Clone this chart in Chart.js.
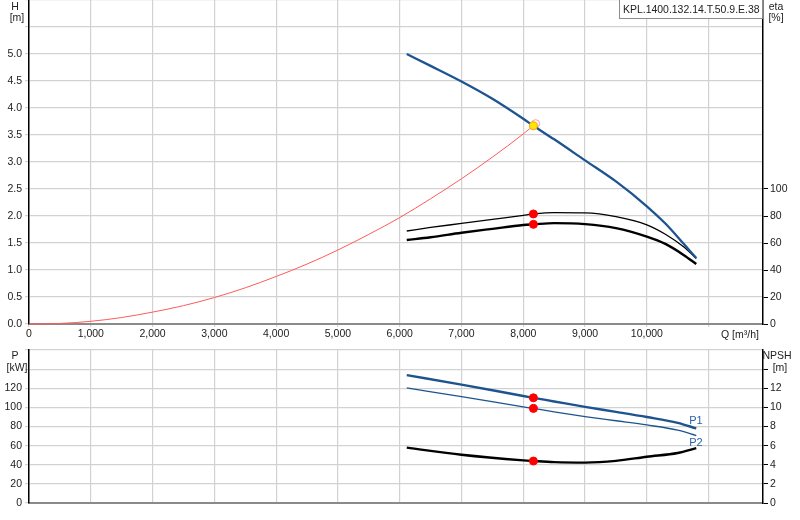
<!DOCTYPE html>
<html>
<head>
<meta charset="utf-8">
<script src="https://cdn.jsdelivr.net/npm/chart.js@4.4.0/dist/chart.umd.min.js"></script>
<style>
  body { margin: 0; background: #fff; width: 800px; height: 520px; position: relative; overflow: hidden;
         font-family: "Liberation Sans", Arial, sans-serif; color: #222; }
  .t { position: absolute; font-size: 10.5px; line-height: 12px; white-space: nowrap; transform: translate(-50%, -50%); }
  .blue { color: #2a62a5; font-size: 11px; }
  #box { position: absolute; left: 619px; top: 0; width: 144px; height: 19px; border: 1px solid #8c8c8c; border-top: 0;
         box-sizing: border-box; font-size: 11px; line-height: 18px; background: #fff; overflow: hidden; }
  #box span { display: inline-block; white-space: nowrap; transform-origin: 0 50%; transform: scaleX(0.95); margin-left: 3px; }
  canvas { position: absolute; left: 0; }
  #top { top: 0; }
  #bot { top: 345px; }
</style>
</head>
<body>
<canvas id="top" width="800" height="345"></canvas>
<canvas id="bot" width="800" height="175"></canvas>

<div class="t" style="left:15px;top:6px">H</div>
<div class="t" style="left:17px;top:17px">[m]</div>
<div class="t" style="left:776px;top:6px">eta</div>
<div class="t" style="left:776px;top:17px">[%]</div>
<div class="t" style="left:740px;top:334px">Q [m³/h]</div>
<div class="t" style="left:15px;top:355px">P</div>
<div class="t" style="left:17px;top:367px">[kW]</div>
<div class="t" style="left:777px;top:355px">NPSH</div>
<div class="t" style="left:780px;top:367px">[m]</div>
<div class="t blue" style="left:696px;top:420px">P1</div>
<div class="t blue" style="left:696px;top:442px">P2</div>
<div id="box"><span>KPL.1400.132.14.T.50.9.E.38</span></div>

<script>
// pump curves, Q in m³/h
const qHead = [6114, 6500, 7000, 7500, 8000, 8164, 8500, 9000, 9500, 10000, 10300, 10600, 10800];
const head = [5.0, 4.78, 4.49, 4.17, 3.80, 3.67, 3.42, 3.03, 2.64, 2.18, 1.86, 1.48, 1.22];
const etaPump = [68.9, 71.5, 74.5, 77.5, 80.5, 81.5, 82.5, 82.3, 79.5, 73.5, 66.5, 57.0, 48.5];
const etaTotal = [62.2, 64.3, 67.6, 70.5, 73.3, 73.8, 74.7, 74.0, 71.0, 64.7, 59.3, 51.0, 44.4];

// system curve
const qSys = [0, 500, 1000, 1500, 2000, 2500, 3000, 3500, 4000, 4500, 5000, 5500, 6000, 6500, 7000, 7500, 8000, 8200];
const sysHead = [0, 0.01, 0.05, 0.12, 0.22, 0.34, 0.49, 0.67, 0.88, 1.11, 1.37, 1.66, 1.97, 2.32, 2.69, 3.09, 3.52, 3.71];

// power and NPSH
const qPower = [6114, 7000, 8000, 8164, 8500, 9000, 9500, 10000, 10500, 10800];
const p1 = [133.7, 123.8, 111.9, 110.0, 106.2, 100.5, 95.3, 89.9, 83.8, 78.0];
const p2 = [120.4, 111.2, 100.6, 98.9, 95.4, 90.4, 86.0, 81.6, 76.2, 70.5];
const npsh = [5.79, 5.05, 4.46, 4.39, 4.27, 4.22, 4.40, 4.84, 5.23, 5.73];

// duty point
const opQ = 8164;
const opHead = 3.67, opEtaPump = 81.5, opEtaTotal = 73.8;
const opP1 = 110.0, opP2 = 98.9, opNpsh = 4.39;

// axis ticks
const qTicks = [0, 1000, 2000, 3000, 4000, 5000, 6000, 7000, 8000, 9000, 10000, 11000];
const etaTicks = [0, 20, 40, 60, 80, 100];
const npshTicks = [0, 2, 4, 6, 8, 10, 12, 14];

const pts = (xs, ys) => xs.map((x, i) => ({ x, y: ys[i] }));

Chart.defaults.font.family = "'Liberation Sans', Arial, sans-serif";
Chart.defaults.font.size = 10.5;
Chart.defaults.color = '#222';

const GRID = '#d2d2d2';
const BLUE = '#1d5490';

function fix(size, horiz) {
  return s => {
    if (horiz) s.height = size; else s.width = size;
    s.paddingTop = 0; s.paddingBottom = 0; s.paddingLeft = 0; s.paddingRight = 0;
  };
}
const setTicks = vals => s => { s.ticks = vals.map(v => ({ value: v })); };

function line(data, color, width, yAxisID, extra) {
  return Object.assign({
    data, borderColor: color, borderWidth: width, pointRadius: 0, yAxisID,
    cubicInterpolationMode: 'monotone', fill: false, clip: false
  }, extra || {});
}
function dot(x, y, yAxisID, bg, border) {
  return { data: [{ x, y }], yAxisID, showLine: false, pointRadius: 4,
           pointBackgroundColor: bg, pointBorderColor: border || bg, pointBorderWidth: 1, order: 0 };
}

const common = {
  type: 'line',
  options: {
    responsive: false,
    animation: false,
    plugins: { legend: { display: false }, tooltip: { enabled: false } }
  }
};

new Chart(document.getElementById('top'), {
  ...common,
  data: {
    datasets: [
      dot(opQ, opHead, 'y', '#ffe600', '#f0a020'),
      dot(opQ, opEtaPump, 'y2', '#ff0000'),
      dot(opQ, opEtaTotal, 'y2', '#ff0000'),
      line(pts(qSys, sysHead), '#ff5a5a', 1, 'y', {
        order: 2,
        pointRadius: qSys.map((q, i) => i === qSys.length - 1 ? 4 : 0),
        pointBorderColor: '#ff9a9a', pointBackgroundColor: 'rgba(0,0,0,0)', pointBorderWidth: 1
      }),
      line(pts(qHead, head), BLUE, 2.3, 'y', { order: 1 }),
      line(pts(qHead, etaPump), '#000', 1.3, 'y2', { order: 1 }),
      line(pts(qHead, etaTotal), '#000', 2.4, 'y2', { order: 1 })
    ]
  },
  options: {
    ...common.options,
    layout: { padding: 0, autoPadding: false },
    scales: {
      x: {
        type: 'linear', min: 0, max: 11880,
        afterBuildTicks: setTicks(qTicks), afterFit: fix(21, true),
        grid: { color: GRID, lineWidth: 1.2, tickLength: 3 },
        border: { color: '#8a8a8a', width: 2 },
        ticks: { padding: 1, maxRotation: 0, callback: v => v <= 10000 ? v.toLocaleString('en-US') : '' }
      },
      y: {
        position: 'left', min: 0, max: 6,
        ticks: { stepSize: 0.5, padding: 3, callback: v => v <= 5 ? v.toFixed(1) : '' },
        afterFit: fix(29),
        grid: { color: GRID, lineWidth: 1.2, tickLength: 4 },
        border: { color: '#000', width: 1.5 }
      },
      y2: {
        position: 'right', min: 0, max: 240,
        afterBuildTicks: setTicks(etaTicks), afterFit: fix(37),
        ticks: { padding: 2 },
        grid: { drawOnChartArea: false, color: '#000', tickLength: 5 },
        border: { color: '#000', width: 1.5 }
      }
    }
  }
});

new Chart(document.getElementById('bot'), {
  ...common,
  data: {
    datasets: [
      dot(opQ, opP1, 'yP', '#ff0000'),
      dot(opQ, opP2, 'yP', '#ff0000'),
      dot(opQ, opNpsh, 'yN', '#ff0000'),
      line(pts(qPower, p1), BLUE, 2.4, 'yP', { order: 1 }),
      line(pts(qPower, p2), BLUE, 1.3, 'yP', { order: 1 }),
      line(pts(qPower, npsh), '#000', 2.4, 'yN', { order: 1 })
    ]
  },
  options: {
    ...common.options,
    layout: { padding: { top: 5 }, autoPadding: false },
    scales: {
      x: {
        type: 'linear', min: 0, max: 11880,
        afterBuildTicks: setTicks(qTicks), afterFit: fix(17, true),
        grid: { color: GRID, lineWidth: 1.2, drawTicks: false },
        border: { color: '#8a8a8a', width: 2 },
        ticks: { display: false }
      },
      yP: {
        position: 'left', min: 0, max: 160,
        ticks: { stepSize: 20, padding: 3, callback: v => v <= 120 ? v : '' },
        afterFit: fix(29),
        grid: { color: GRID, lineWidth: 1.2, tickLength: 4 },
        border: { color: '#000', width: 1.5 }
      },
      yN: {
        position: 'right', min: 0, max: 16,
        afterBuildTicks: setTicks(npshTicks), afterFit: fix(37),
        ticks: { padding: 2, callback: v => v <= 12 ? v : '' },
        grid: { drawOnChartArea: false, color: '#000', tickLength: 5 },
        border: { color: '#000', width: 1.5 }
      }
    }
  }
});
</script>
</body>
</html>
